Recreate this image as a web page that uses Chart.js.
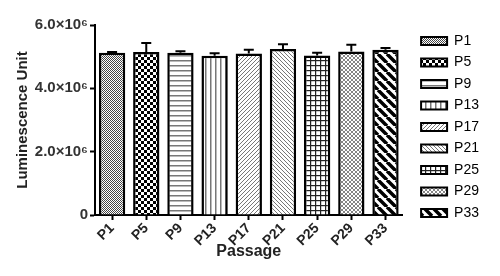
<!DOCTYPE html>
<html>
<head>
<meta charset="utf-8">
<script src="https://cdn.jsdelivr.net/npm/chart.js@4.4.1/dist/chart.umd.min.js"></script>
<style>
html,body{margin:0;padding:0;background:#fff;}
canvas{display:block;}
</style>
</head>
<body>
<canvas id="c" width="500" height="276"></canvas>
<script>
// ---- data ----
const categories = ['P1','P5','P9','P13','P17','P21','P25','P29','P33'];
const luminescence = [5120000, 5150000, 5120000, 5030000, 5100000, 5240000, 5040000, 5160000, 5220000];
const errorUp = [30000, 280000, 50000, 80000, 120000, 150000, 80000, 220000, 50000];
const yTickValues = [0, 2000000, 4000000, 6000000];
const yTickLabels = ['0', '2.0×10⁶', '4.0×10⁶', '6.0×10⁶'];

const FONT = '"Liberation Sans", Arial, Helvetica, sans-serif';
const canvas = document.getElementById('c');
const ctx = canvas.getContext('2d');

function makePattern(size, draw) {
  const c = document.createElement('canvas');
  c.width = size; c.height = size;
  const g = c.getContext('2d');
  g.fillStyle = '#fff';
  g.fillRect(0, 0, size, size);
  draw(g, size);
  return ctx.createPattern(c, 'repeat');
}
function diag(g, s, dir, color, lw) {
  g.strokeStyle = color; g.lineWidth = lw;
  g.beginPath();
  for (let k = -1; k <= 1; k++) {
    if (dir === '/') { g.moveTo(k * s, s); g.lineTo(k * s + s, 0); }
    else { g.moveTo(k * s, 0); g.lineTo(k * s + s, s); }
  }
  g.stroke();
}

const patterns = [
  makePattern(2, (g) => { g.fillStyle = '#444'; g.fillRect(0, 0, 1, 1); g.fillRect(1, 1, 1, 1); }),
  makePattern(6, (g) => { g.fillStyle = '#000'; g.fillRect(0, 0, 3, 3); g.fillRect(3, 3, 3, 3); }),
  makePattern(5, (g, s) => { g.fillStyle = '#777'; g.fillRect(0, 0, s, 1.5); }),
  makePattern(5, (g, s) => { g.fillStyle = '#777'; g.fillRect(0, 0, 1.5, s); }),
  makePattern(4, (g, s) => diag(g, s, '/', '#777', 1)),
  makePattern(4, (g, s) => diag(g, s, '\\', '#777', 1)),
  makePattern(5, (g, s) => { g.fillStyle = '#222'; g.fillRect(0, 0, s, 1.2); g.fillRect(0, 0, 1.2, s); }),
  makePattern(4, (g, s) => { diag(g, s, '/', '#666', 0.8); diag(g, s, '\\', '#666', 0.8); }),
  makePattern(9, (g, s) => diag(g, s, '\\', '#000', 3.5)),
];

const errorBarPlugin = {
  id: 'errorBars',
  afterDatasetsDraw(chart) {
    const meta = chart.getDatasetMeta(0);
    const ys = chart.scales.y;
    const c = chart.ctx;
    c.save();
    c.strokeStyle = '#000';
    c.lineWidth = 2;
    meta.data.forEach((bar, i) => {
      const top = ys.getPixelForValue(luminescence[i] + errorUp[i]);
      c.beginPath();
      c.moveTo(bar.x, bar.y);
      c.lineTo(bar.x, top);
      c.moveTo(bar.x - 5, top);
      c.lineTo(bar.x + 5, top);
      c.stroke();
    });
    c.restore();
  }
};

// place legend at a fixed distance right of the plot area
const legendShift = {
  id: 'legendShift',
  afterLayout(chart) {
    const lg = chart.legend;
    if (lg) {
      const w = lg.right - lg.left;
      lg.left = chart.chartArea.right + 11;
      lg.right = lg.left + w;
      lg.top += 1.5;
      lg.bottom += 1.5;
    }
  }
};

new Chart(ctx, {
  type: 'bar',
  data: {
    labels: categories,
    datasets: [{
      data: luminescence,
      backgroundColor: patterns,
      borderColor: '#000',
      borderWidth: 2.5,
      borderSkipped: 'start',
      categoryPercentage: 1,
      barPercentage: 0.77
    }]
  },
  options: {
    responsive: false,
    animation: false,
    devicePixelRatio: 1,
    layout: { padding: { top: 25, right: 22, bottom: 0, left: 0 } },
    plugins: {
      tooltip: { enabled: false },
      legend: {
        position: 'right',
        align: 'start',
        labels: {
          boxWidth: 26,
          boxHeight: 8,
          padding: 7.5,
          color: '#333',
          font: { family: FONT, size: 14 },
          generateLabels: (chart) => categories.map((name, i) => ({
            text: name,
            fillStyle: patterns[i],
            strokeStyle: '#000',
            lineWidth: 2,
            hidden: false,
            index: i,
            datasetIndex: 0
          }))
        }
      }
    },
    scales: {
      x: {
        offset: true,
        grid: { display: true, offset: false, drawOnChartArea: false, drawTicks: true, tickLength: 5, tickWidth: 2, tickColor: '#000' },
        border: { display: true, color: '#000', width: 2 },
        ticks: { maxRotation: 45, minRotation: 45, padding: 0, color: '#222', font: { family: FONT, size: 14, weight: 'bold' } },
        title: { display: true, text: 'Passage', color: '#222', font: { family: FONT, size: 16, weight: 'bold' }, padding: { top: 0, bottom: 15 } },
        afterFit: (s) => { s.height = 61; }
      },
      y: {
        min: 0,
        max: 6000000,
        afterBuildTicks: (s) => { s.ticks = yTickValues.map(v => ({ value: v })); },
        grid: { display: true, drawOnChartArea: false, drawTicks: true, tickLength: 5, tickWidth: 2, tickColor: '#000' },
        border: { display: true, color: '#000', width: 2 },
        ticks: {
          padding: 2,
          color: '#333',
          font: { family: FONT, size: 15, weight: 'bold' },
          callback: (v) => { const i = yTickValues.indexOf(v); return i >= 0 ? yTickLabels[i] : ''; }
        },
        title: { display: true, text: 'Luminescence Unit', color: '#222', font: { family: FONT, size: 15, weight: 'bold' }, padding: { top: 14, bottom: 0 } },
        afterFit: (s) => { s.width = 95; }
      }
    }
  },
  plugins: [errorBarPlugin, legendShift]
});
</script>
</body>
</html>
